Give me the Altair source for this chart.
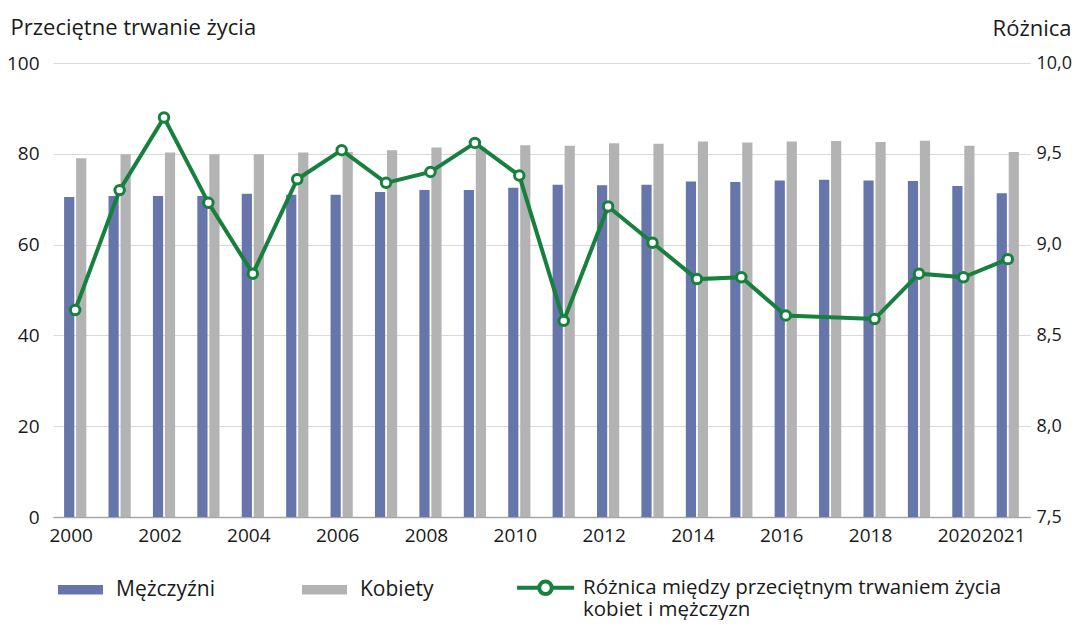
import altair as alt
import pandas as pd

years = ["2000", "2001", "2002", "2003", "2004", "2005", "2006", "2007", "2008", "2009", "2010",
         "2011", "2012", "2013", "2014", "2015", "2016", "2017", "2018", "2019", "2020", "2021"]
men = [70.5, 70.7, 70.7, 70.7, 71.2, 71.0, 71.0, 71.6, 72.0, 72.0, 72.5,
       73.2, 73.1, 73.2, 73.9, 73.8, 74.1, 74.3, 74.1, 74.0, 72.9, 71.3]
women = [79.0, 79.9, 80.3, 79.9, 79.9, 80.3, 80.4, 80.8, 81.4, 81.4, 81.9,
         81.8, 82.3, 82.2, 82.7, 82.5, 82.7, 82.8, 82.6, 82.9, 81.8, 80.4]
diff = [8.64, 9.30, 9.70, 9.23, 8.84, 9.36, 9.52, 9.34, 9.40, 9.56, 9.38,
        8.58, 9.21, 9.01, 8.81, 8.82, 8.61, None, 8.59, 8.84, 8.82, 8.92]
x_labels = ["2000", "2002", "2004", "2006", "2008", "2010", "2012", "2014", "2016", "2018", "2020", "2021"]
left_ticks = [0, 20, 40, 60, 80, 100]
right_ticks = [7.5, 8.0, 8.5, 9.0, 9.5, 10.0]

series = ["Mężczyźni", "Kobiety"]
line_name = "Różnica między kobietami i mężczyznami"
line_label_1 = "Różnica między przeciętnym trwaniem życia"
line_label_2 = "kobiet i mężczyzn"

C_MEN = "#6675aa"
C_WOMEN = "#b3b3b3"
C_LINE = "#17803f"
FONT = "Open Sans"
TXT = "#1a1a1a"

bars_df = pd.DataFrame({
    "rok": years * 2,
    "plec": [series[0]] * len(years) + [series[1]] * len(years),
    "wartosc": men + women,
})
line_df = pd.DataFrame({"rok": years, "roznica": diff, "seria": [line_name] * len(years)}).dropna()

x_scale = alt.Scale(domain=years, paddingInner=0.5, paddingOuter=0.25)
x_axis = alt.Axis(values=x_labels, title=None, labelAngle=0, ticks=False, labelFontSize=19,
                  labelPadding=9, labelOffset=-4, domainColor="#a6a6a6", domainWidth=1.5,
                  labelColor=TXT, grid=False)

right_axis = alt.Axis(orient="right", values=right_ticks,
                      labelExpr="replace(format(datum.value, '.1f'), '.', ',')",
                      title="Różnica", titleAngle=0, titleAlign="right", titleBaseline="middle",
                      titleX=41, titleY=-35, titleFontSize=22, titleFontWeight="normal",
                      titleColor=TXT, labelFontSize=18, labelPadding=6, labelColor=TXT,
                      ticks=False, domain=False, grid=False)
y_right = alt.Y("roznica:Q", scale=alt.Scale(domain=[7.5, 10], nice=False), axis=right_axis,
                title="Różnica")

rect_path = "M-1,-0.21H1V0.21H-1Z"
line_path = ("M-1,-0.2H-0.22M0.22,-0.2H1"
             "M0.22,-0.2A0.22,0.22,0,1,1,-0.22,-0.2A0.22,0.22,0,1,1,0.22,-0.2")

bars = alt.Chart(bars_df).mark_bar().encode(
    x=alt.X("rok:O", scale=x_scale, axis=x_axis),
    xOffset=alt.XOffset("plec:N", sort=series, scale=alt.Scale(domain=series, paddingInner=0.15)),
    y=alt.Y("wartosc:Q", scale=alt.Scale(domain=[0, 100], nice=False),
            axis=alt.Axis(values=left_ticks, title="Przeciętne trwanie życia", titleAngle=0,
                          titleAlign="left", titleBaseline="middle", titleX=-43, titleY=-36,
                          titleFontSize=22, titleFontWeight="normal", titleColor=TXT,
                          labelFontSize=19, labelPadding=14, labelColor=TXT,
                          ticks=False, domain=False, grid=True, gridColor="#d9d9d9", gridWidth=1.2)),
    color=alt.Color("plec:N", sort=series,
                    scale=alt.Scale(domain=series, range=[C_MEN, C_WOMEN]),
                    legend=alt.Legend(orient="none", legendX=5, legendY=504, direction="horizontal",
                                      title=None, symbolType=rect_path, symbolSize=2025,
                                      symbolStrokeWidth=0, labelFontSize=21, labelOffset=13,
                                      columnPadding=87, padding=0, labelColor=TXT, labelLimit=400)),
)

line = alt.Chart(line_df).mark_line(strokeWidth=4).encode(
    x=alt.X("rok:O", scale=x_scale, axis=x_axis),
    y=y_right,
    stroke=alt.Stroke("seria:N", scale=alt.Scale(domain=[line_name], range=[C_LINE]),
                      legend=alt.Legend(orient="none", legendX=462, legendY=500, title=None,
                                        symbolType=line_path, symbolSize=3249,
                                        symbolStrokeColor=C_LINE, symbolFillColor="white",
                                        symbolStrokeWidth=4, labelFontSize=20.5, labelOffset=7,
                                        labelBaseline="alphabetic", labelColor=TXT, padding=0,
                                        labelLimit=600,
                                        labelExpr="['" + line_label_1 + "', '" + line_label_2 + "']")),
)

points = alt.Chart(line_df).mark_point(filled=True, fill="white", stroke=C_LINE, strokeWidth=3,
                                       size=90, opacity=1).encode(
    x=alt.X("rok:O", scale=x_scale, axis=x_axis),
    y=y_right,
)

chart = alt.layer(bars, alt.layer(line, points)).resolve_scale(
    y="independent", color="independent"
).properties(
    width=977, height=454,
    autosize=alt.AutoSizeParams(type="none"),
    padding={"left": 45, "top": 55, "right": 42, "bottom": 103},
    background="white",
).configure(
    font=FONT,
    view=alt.ViewConfig(stroke=None),
    style={"guide-label": {"lineHeight": 22}},
)

chart.save("out.html", embed_options={"renderer": "svg", "actions": False})
